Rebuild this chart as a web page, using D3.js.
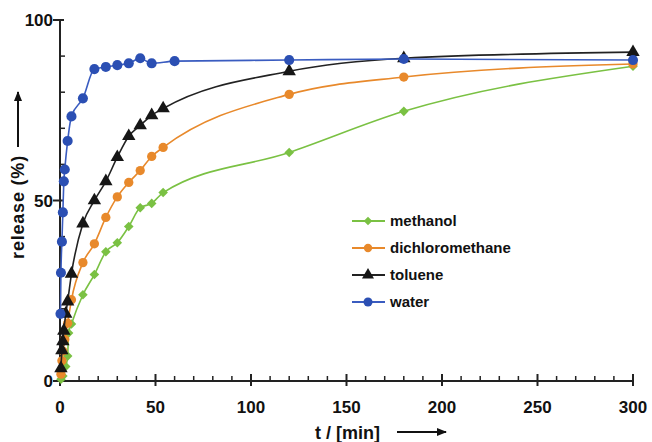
<!DOCTYPE html>
<html>
<head>
<meta charset="utf-8">
<script src="https://cdn.jsdelivr.net/npm/d3@7"></script>
<style>
  html, body { margin: 0; padding: 0; background: #fff; }
  svg { display: block; }
  text { font-family: "Liberation Sans", Arial, sans-serif; font-weight: bold; fill: #111; }
</style>
</head>
<body>
<svg id="chart" width="652" height="442"></svg>
<script>
// ---- data (time in min, release in %) ----
const seriesNames = ["methanol", "dichloromethane", "toluene", "water"];

const methanolT = [0.5, 1.5, 3, 4, 4.5, 6, 12, 18, 24, 30, 36, 42, 48, 54, 120, 180, 300];
const methanolV = [0.5, 1.4, 4, 6.9, 13.3, 15.8, 23.9, 29.5, 35.8, 38.3, 42.8, 48, 49.2, 52.2, 63.3, 74.7, 87.2];

const dcmT = [0.5, 1, 1.5, 2.5, 4, 6, 12, 18, 24, 30, 36, 42, 48, 54, 120, 180, 300];
const dcmV = [1.9, 5.6, 8.3, 11.5, 16, 22.5, 32.8, 38, 45.3, 51, 55, 58.3, 62.2, 64.7, 79.4, 84.2, 87.8];

const tolueneT = [0.5, 1, 1.5, 2, 3, 4, 6, 12, 18, 24, 30, 36, 42, 48, 54, 120, 180, 300];
const tolueneV = [3.5, 8.5, 11, 13.9, 18.6, 22, 29.7, 43.6, 50, 55.3, 62, 67.8, 70.8, 73.6, 75.5, 85.8, 89.4, 91.1];

const waterT = [0.25, 0.5, 1, 1.5, 2, 2.5, 4, 6, 12, 18, 24, 30, 36, 42, 48, 60, 120, 180, 300];
const waterV = [18.6, 30, 38.6, 46.7, 55.3, 58.6, 66.5, 73.3, 78.3, 86.4, 87, 87.5, 88, 89.4, 88, 88.6, 88.9, 89.2, 88.9];

const xMajorTicks = [0, 50, 100, 150, 200, 250, 300];
const yMajorTicks = [0, 50, 100];
const xLabel = "t / [min]";
const yLabel = "release (%)";

// ---- styles ----
const colors = { methanol: "#7ac143", dichloromethane: "#e8892b", toluene: "#161616", water: "#2b4fb3" };
const lineColors = { methanol: "#7ac143", dichloromethane: "#e8892b", toluene: "#222", water: "#3a5cc0" };
const symbols = { methanol: d3.symbolSquare, dichloromethane: d3.symbolCircle, toluene: d3.symbolTriangle, water: d3.symbolCircle };
const symRot = { methanol: 45, dichloromethane: 0, toluene: 0, water: 0 };
const symSizes = { methanol: 46, dichloromethane: 68, toluene: 78, water: 80 };

const data = {
  methanol: methanolT.map((t, i) => ({ t, v: methanolV[i] })),
  dichloromethane: dcmT.map((t, i) => ({ t, v: dcmV[i] })),
  toluene: tolueneT.map((t, i) => ({ t, v: tolueneV[i] })),
  water: waterT.map((t, i) => ({ t, v: waterV[i] }))
};

const svg = d3.select("#chart");
const x = d3.scaleLinear().domain([0, 300]).range([60, 633]);
const y = d3.scaleLinear().domain([0, 100]).range([381, 20]);

const axisColor = "#222";

// arrow marker
svg.append("defs").append("marker")
  .attr("id", "arrow").attr("viewBox", "0 0 10 10").attr("refX", 9).attr("refY", 5)
  .attr("markerWidth", 5).attr("markerHeight", 5).attr("orient", "auto-start-reverse")
  .append("path").attr("d", "M0,1 L10,5 L0,9 Z").attr("fill", "#111");

// ---- axes ----
const gAx = svg.append("g");
gAx.append("line").attr("x1", x(0)).attr("x2", x(300)).attr("y1", y(0)).attr("y2", y(0))
  .attr("stroke", axisColor).attr("stroke-width", 2);
gAx.append("line").attr("x1", x(0)).attr("x2", x(0)).attr("y1", y(0) + 1).attr("y2", y(100))
  .attr("stroke", axisColor).attr("stroke-width", 2);

const xMinor = d3.range(0, 301, 10).filter(v => !xMajorTicks.includes(v));
const yMinor = d3.range(0, 101, 10).filter(v => !yMajorTicks.includes(v));

gAx.selectAll(".xmaj").data(xMajorTicks).join("line")
  .attr("x1", d => x(d)).attr("x2", d => x(d)).attr("y1", y(0) - 7).attr("y2", y(0) + 5)
  .attr("stroke", axisColor).attr("stroke-width", 2);
gAx.selectAll(".xmin").data(xMinor).join("line")
  .attr("x1", d => x(d)).attr("x2", d => x(d)).attr("y1", y(0) - 5).attr("y2", y(0))
  .attr("stroke", axisColor).attr("stroke-width", 1.5);
gAx.selectAll(".ymaj").data(yMajorTicks).join("line")
  .attr("x1", x(0) - 7).attr("x2", x(0) + 4).attr("y1", d => y(d)).attr("y2", d => y(d))
  .attr("stroke", axisColor).attr("stroke-width", 2);
gAx.selectAll(".ymin").data(yMinor).join("line")
  .attr("x1", x(0)).attr("x2", x(0) + 5).attr("y1", d => y(d)).attr("y2", d => y(d))
  .attr("stroke", axisColor).attr("stroke-width", 1.5);

gAx.selectAll(".xlab").data(xMajorTicks).join("text")
  .attr("x", d => x(d)).attr("y", y(0) + 32).attr("text-anchor", "middle")
  .style("font-size", "17px").text(d => d);
gAx.selectAll(".ylab").data(yMajorTicks).join("text")
  .attr("x", x(0) - 7).attr("y", d => y(d) + 6).attr("text-anchor", "end")
  .style("font-size", "17px").text(d => d);

// axis titles
svg.append("text").attr("x", 315).attr("y", 439).style("font-size", "18px").text(xLabel);
svg.append("line").attr("x1", 397).attr("x2", 446).attr("y1", 432).attr("y2", 432)
  .attr("stroke", "#111").attr("stroke-width", 2).attr("marker-end", "url(#arrow)");

svg.append("text").attr("transform", "translate(24,207) rotate(-90)").attr("text-anchor", "middle")
  .style("font-size", "18px").style("letter-spacing", "0.8px").text(yLabel);
svg.append("line").attr("x1", 18).attr("x2", 18).attr("y1", 147).attr("y2", 92)
  .attr("stroke", "#111").attr("stroke-width", 2).attr("marker-end", "url(#arrow)");

// ---- series ----
const line = d3.line().x(d => x(d.t)).y(d => y(d.v)).curve(d3.curveMonotoneX);

seriesNames.forEach(name => {
  const g = svg.append("g");
  g.append("path").datum(data[name]).attr("d", line)
    .attr("fill", "none").attr("stroke", lineColors[name]).attr("stroke-width", 1.6);
  g.selectAll("path.pt").data(data[name]).join("path").attr("class", "pt")
    .attr("transform", d => `translate(${x(d.t)},${y(d.v)}) rotate(${symRot[name]})`)
    .attr("d", d3.symbol().type(symbols[name]).size(symSizes[name]))
    .attr("fill", colors[name]);
});

// ---- legend ----
const legend = svg.append("g");
const legY = d3.scalePoint().domain(seriesNames).range([221, 302]);
seriesNames.forEach(name => {
  const yy = legY(name);
  legend.append("line").attr("x1", 352).attr("x2", 385).attr("y1", yy).attr("y2", yy)
    .attr("stroke", lineColors[name]).attr("stroke-width", 1.8);
  legend.append("path").attr("transform", `translate(368,${yy}) rotate(${symRot[name]})`)
    .attr("d", d3.symbol().type(symbols[name]).size(symSizes[name] * 0.8))
    .attr("fill", colors[name]);
  legend.append("text").attr("x", 390).attr("y", yy + 5).style("font-size", "15px").text(name);
});
</script>
</body>
</html>
